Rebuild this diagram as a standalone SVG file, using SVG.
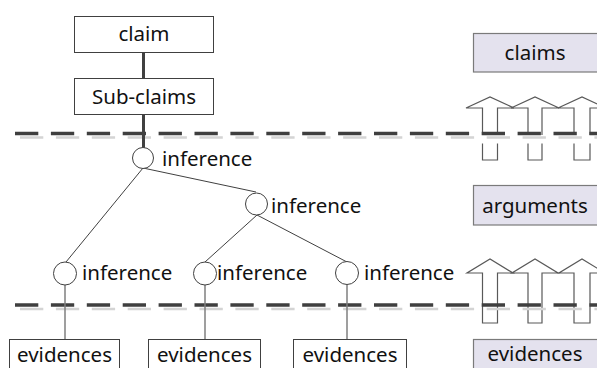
<svg xmlns="http://www.w3.org/2000/svg" width="597" height="368" viewBox="0 0 597 368">
  <style>
    .box { fill: #ffffff; stroke: #404040; stroke-width: 1; }
    .legend { fill: #e4e2ee; stroke: #7a7a7a; stroke-width: 1.2; }
    .lbl { font-family: "Noto Sans", "Open Sans", sans-serif; font-size: 20.5px; fill: #111111; }
    .mid { text-anchor: middle; }
    .node { fill: #ffffff; stroke: #404040; stroke-width: 1; }
    .thick { stroke: #404040; stroke-width: 3; fill: none; }
    .thin { stroke: #404040; stroke-width: 1; fill: none; }
    .drop { stroke: #7f7f7f; stroke-width: 1.5; fill: none; }
    .dash { stroke: #3f3f3f; stroke-width: 3.5; stroke-dasharray: 23.3 12.6; fill: none; }
    .dashShadow { stroke: #d4d4d4; stroke-width: 2.5; stroke-dasharray: 23.3 12.6; fill: none; }
    .arrow { fill: #ffffff; stroke: #595959; stroke-width: 1.2; stroke-linejoin: miter; }
  </style>

  <!-- level arrows on the right -->
  <g id="arrows-upper">
    <polygon class="arrow" points="482.5,160 482.5,108 466,108 490,97 514,108 497.5,108 497.5,160"/>
    <polygon class="arrow" points="528,160 528,108 511,108 535,97 559,108 542,108 542,160"/>
    <polygon class="arrow" points="574,160 574,108 558,108 582,97 606,108 590,108 590,160"/>
    <rect x="470" y="135" width="130" height="8.5" fill="#ffffff"/>
  </g>
  <g id="arrows-lower">
    <polygon class="arrow" points="482.5,323 482.5,273 467,273 490,259 513,273 497.5,273 497.5,323"/>
    <polygon class="arrow" points="528,323 528,273 512,273 535,259 558,273 542,273 542,323"/>
    <polygon class="arrow" points="574,323 574,273 559,273 582,259 605,273 590,273 590,323"/>
  </g>

  <!-- layer separators -->
  <g id="separators">
    <line class="dashShadow" x1="20" y1="137.5" x2="602" y2="137.5"/>
    <line class="dash" x1="15" y1="133.5" x2="597" y2="133.5"/>
    <line class="dashShadow" x1="20" y1="309" x2="602" y2="309"/>
    <line class="dash" x1="15" y1="305" x2="597" y2="305"/>
  </g>

  <!-- connectors -->
  <g id="connectors">
    <line class="thick" x1="143.5" y1="52" x2="143.5" y2="78"/>
    <line class="thick" x1="143.5" y1="114" x2="143.5" y2="148"/>
    <line class="thin" x1="143" y1="168" x2="66" y2="262"/>
    <line class="thin" x1="143" y1="168" x2="256" y2="192"/>
    <line class="thin" x1="257" y1="215" x2="205" y2="262"/>
    <line class="thin" x1="257" y1="215" x2="347" y2="262"/>
    <line class="drop" x1="65" y1="285" x2="65" y2="339"/>
    <line class="drop" x1="205" y1="285" x2="205" y2="339"/>
    <line class="drop" x1="347" y1="285" x2="347" y2="339"/>
  </g>

  <!-- claim nodes -->
  <g id="claim">
    <rect class="box" x="74.5" y="16.5" width="139" height="36"/>
    <text class="lbl mid" x="144" y="41">claim</text>
  </g>
  <g id="sub-claims">
    <rect class="box" x="74.5" y="78.5" width="139" height="36"/>
    <text class="lbl mid" x="144" y="104">Sub-claims</text>
  </g>

  <!-- inference nodes -->
  <g id="inference-1">
    <circle class="node" cx="143" cy="158" r="10.5"/>
    <text class="lbl" x="162" y="166">inference</text>
  </g>
  <g id="inference-2">
    <circle class="node" cx="256.5" cy="204" r="11"/>
    <text class="lbl" x="271" y="213">inference</text>
  </g>
  <g id="inference-3">
    <circle class="node" cx="65" cy="273.5" r="11.5"/>
    <text class="lbl" x="82" y="280">inference</text>
  </g>
  <g id="inference-4">
    <circle class="node" cx="205" cy="273.5" r="11.5"/>
    <text class="lbl" x="217" y="280">inference</text>
  </g>
  <g id="inference-5">
    <circle class="node" cx="347" cy="273" r="11.5"/>
    <text class="lbl" x="364" y="280">inference</text>
  </g>

  <!-- evidence nodes -->
  <g id="evidences-1">
    <rect class="box" x="9.5" y="339.5" width="110" height="40"/>
    <text class="lbl mid" x="64.5" y="362">evidences</text>
  </g>
  <g id="evidences-2">
    <rect class="box" x="148.5" y="339.5" width="112" height="40"/>
    <text class="lbl mid" x="204.5" y="362">evidences</text>
  </g>
  <g id="evidences-3">
    <rect class="box" x="293.5" y="339.5" width="113" height="40"/>
    <text class="lbl mid" x="350" y="362">evidences</text>
  </g>

  <!-- layer legend -->
  <g id="legend-claims">
    <rect class="legend" x="473.5" y="33.5" width="126" height="38.5"/>
    <text class="lbl mid" x="535" y="60">claims</text>
  </g>
  <g id="legend-arguments">
    <rect class="legend" x="473.5" y="185.5" width="126" height="39.5"/>
    <text class="lbl mid" x="535" y="213">arguments</text>
  </g>
  <g id="legend-evidences">
    <rect class="legend" x="473.5" y="339.5" width="126" height="40"/>
    <text class="lbl mid" x="535" y="361">evidences</text>
  </g>
</svg>
